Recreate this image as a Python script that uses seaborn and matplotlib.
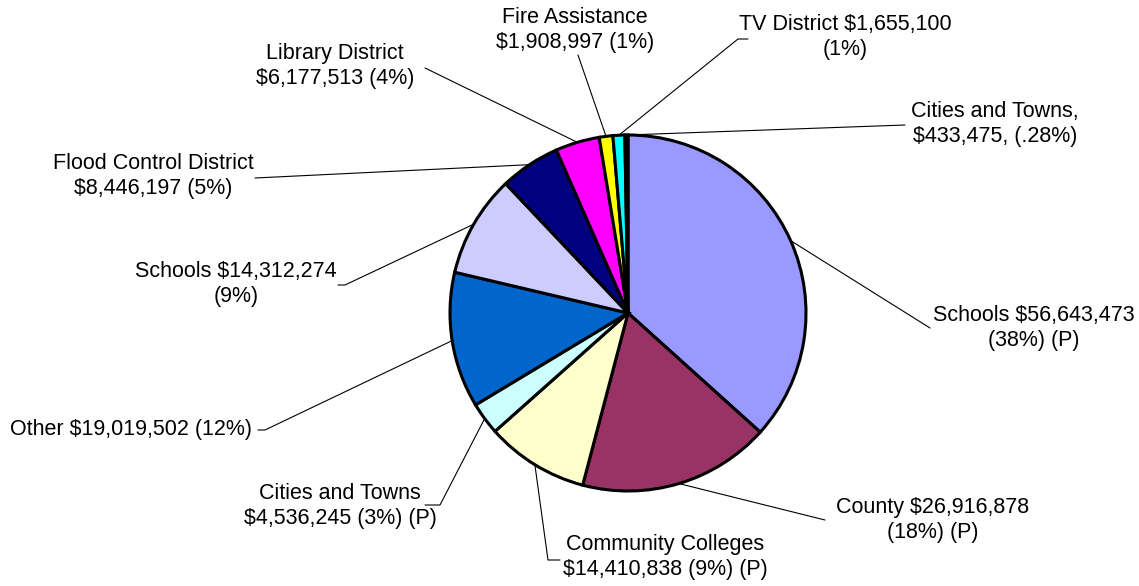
import numpy as np
import matplotlib
matplotlib.use("Agg")
import matplotlib.pyplot as plt
import seaborn as sns

# dados (ordem horária a partir do topo)
labels = ["Schools $56,643,473\n(38%) (P)",
          "County $26,916,878\n(18%) (P)",
          "Community Colleges\n$14,410,838 (9%) (P)",
          "Cities and Towns\n$4,536,245 (3%) (P)",
          "Other $19,019,502 (12%)",
          "Schools $14,312,274\n(9%)",
          "Flood Control District\n$8,446,197 (5%)",
          "Library District\n$6,177,513 (4%)",
          "Fire Assistance\n$1,908,997 (1%)",
          "TV District $1,655,100\n(1%)",
          "Cities and Towns,\n$433,475, (.28%)"]
values = [56643473, 26916878, 14410838, 4536245, 19019502, 14312274,
          8446197, 6177513, 1908997, 1655100, 433475]
colors = ["#9999FF", "#993366", "#FFFFCC", "#CCFFFF", "#0066CC", "#CCCCFF",
          "#000080", "#FF00FF", "#FFFF00", "#00FFFF", "#660066"]

# posição dos rótulos (pixels, origem no topo) e ponto onde a linha encosta
text_pos = [(1034, 328), (933, 520), (665, 557), (340, 506), (131, 430),
            (236, 284), (153, 176), (335, 66), (575, 30), (845, 37), (995, 124)]
line_end = [[(930, 328)], [(825, 520)], [(548, 560), (560, 560)],
            [(440, 505), (425, 505)], [(265, 430), (258, 430)],
            [(345, 285), (338, 285)], [(255, 178)], [(425, 68)],
            [(578, 55)], [(738, 39), (748, 39)], [(905, 125)]]

sns.set_theme(style="white")
plt.rcParams["font.family"] = ["Liberation Sans", "DejaVu Sans"]

W, H = 1139, 586
fig = plt.figure(figsize=(W / 100, H / 100), dpi=100)
ax = fig.add_axes([0, 0, 1, 1])
ax.set_aspect("equal")

cx, cy, r = 628, H - 313, 178
wedges, _ = ax.pie(values, colors=colors, startangle=90, counterclock=False,
                   center=(cx, cy), radius=r, frame=True,
                   wedgeprops=dict(edgecolor="black", linewidth=2.2))
ax.set_xlim(0, W)
ax.set_ylim(0, H)
ax.axis("off")

# linhas de chamada + rótulos
for w, lab, (tx, ty), pts in zip(wedges, labels, text_pos, line_end):
    ang = np.deg2rad((w.theta1 + w.theta2) / 2)
    xs = [cx + r * np.cos(ang)] + [p[0] for p in pts]
    ys = [cy + r * np.sin(ang)] + [H - p[1] for p in pts]
    ax.plot(xs, ys, color="black", linewidth=0.8, zorder=0)
    ax.text(tx, H - ty, lab, ha="center", va="center", fontsize=15.5,
            linespacing=1.2, color="black")

fig.savefig("out.png", dpi=100)
